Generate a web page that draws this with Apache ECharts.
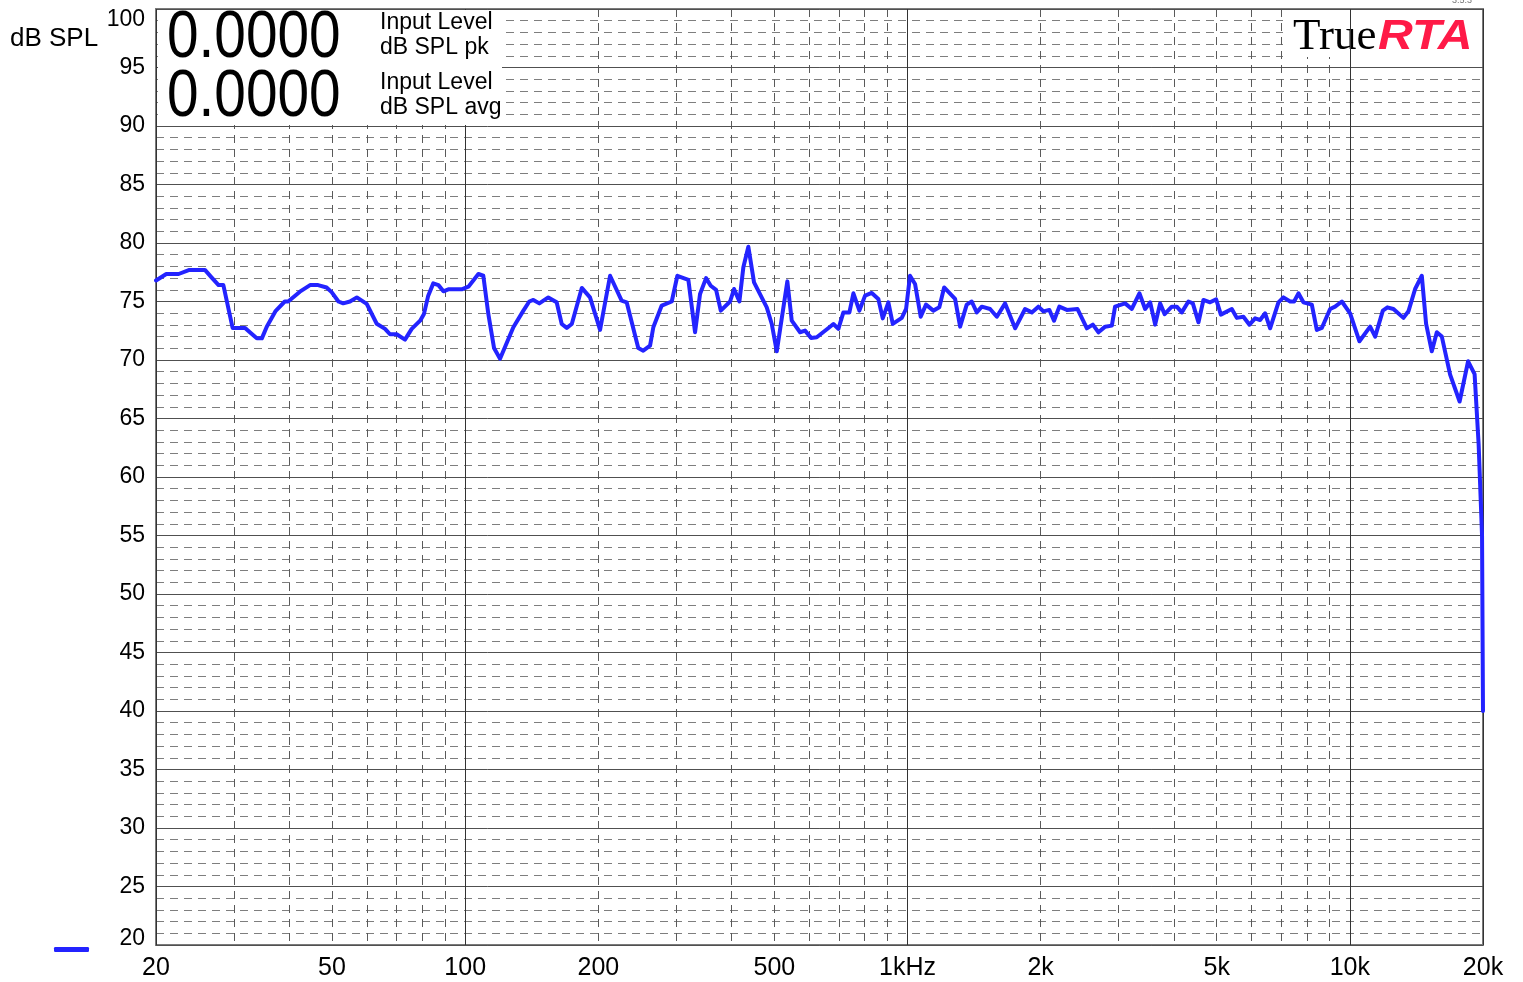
<!DOCTYPE html>
<html>
<head>
<meta charset="utf-8">
<style>
html,body{margin:0;padding:0;background:#fff;}
#chart{width:1523px;height:982px;}
</style>
<script src="https://cdn.jsdelivr.net/npm/echarts@6/dist/echarts.min.js"></script>
</head>
<body>
<div id="chart"></div>
<script>
// Frequencies (Hz) of the measured curve
const freqs = [20, 21.1, 22.5, 23.8, 25.8, 26.7, 27.7, 28.4, 29.8, 31.8,
  32.6, 33.8, 34.7, 35.6, 37.3, 39.1, 39.8, 42.3, 44.6, 46.5,
  48.6, 49.9, 51.7, 53.0, 54.9, 56.9, 59.9, 63.1, 65.9, 67.6,
  70.0, 73.1, 75.7, 79.1, 80.7, 82.5, 84.7, 87.0, 89.3, 91.6,
  98.2, 101.7, 107.1, 109.9, 112.8, 116.2, 119.9, 128.5, 135.4, 139.6,
  142.6, 147.1, 154.1, 161.0, 165.3, 169.7, 174.2, 183.5, 191.5, 201.8,
  212.6, 225.8, 231.8, 246.2, 252.7, 261.8, 266.3, 278.2, 293.1, 301.8,
  319.6, 330.9, 339.6, 350.4, 359.0, 369.2, 378.3, 397.1, 405.4, 416.8,
  425.5, 436.7, 449.8, 480.6, 493.3, 506.3, 535.0, 547.4, 571.6, 586.6,
  605.3, 623.5, 666.0, 679.9, 697.8, 716.2, 739.0, 754.5, 778.4, 801.8,
  830.2, 859.1, 879.0, 905.2, 926.1, 970.6, 992.6, 1013, 1040, 1071,
  1101, 1144, 1180, 1210, 1281, 1315, 1361, 1397, 1434, 1472,
  1537, 1592, 1662, 1751, 1844, 1910, 1976, 2028, 2093, 2144,
  2204, 2292, 2422, 2544, 2624, 2702, 2798, 2897, 2946, 3104,
  3214, 3344, 3445, 3537, 3630, 3724, 3813, 3958, 4062, 4169,
  4316, 4416, 4548, 4666, 4831, 4986, 5110, 5409, 5552, 5746,
  5930, 6108, 6268, 6434, 6603, 6896, 7078, 7328, 7482, 7652,
  7852, 8204, 8420, 8642, 9024, 9262, 9592, 10014, 10512, 11114,
  11408, 11874, 12162, 12548, 13218, 13566, 14046, 14544, 14874, 15322,
  15726, 16142, 16854, 17708, 18508, 19144, 19550, 19900, 20000];

// Measured level (dB SPL)
const levels = [76.8, 77.35, 77.35, 77.7, 77.7, 77.06, 76.4, 76.4, 72.74, 72.74,
  72.37, 71.85, 71.85, 72.85, 74.2, 75.0, 75.0, 75.84, 76.4, 76.4,
  76.2, 75.8, 75.0, 74.84, 75.0, 75.35, 74.8, 73.1, 72.66, 72.2,
  72.2, 71.74, 72.66, 73.36, 73.94, 75.5, 76.55, 76.4, 75.87, 76.04,
  76.04, 76.27, 77.35, 77.2, 73.94, 71.03, 70.1, 72.8, 74.22, 75.0,
  75.13, 74.84, 75.35, 74.93, 73.08, 72.74, 73.08, 76.16, 75.35, 72.57,
  77.2, 75.07, 74.93, 71.03, 70.8, 71.23, 72.8, 74.65, 75.0, 77.2,
  76.84, 72.37, 75.64, 77.0, 76.35, 75.99, 74.22, 75.0, 76.07, 75.0,
  77.92, 79.68, 76.64, 74.5, 73.08, 70.74, 76.72, 73.36, 72.37, 72.51,
  71.89, 71.94, 72.8, 73.08, 72.66, 74.07, 74.07, 75.7, 74.22, 75.5,
  75.73, 75.22, 73.56, 74.93, 73.08, 73.6, 74.36, 77.2, 76.5, 73.7,
  74.73, 74.22, 74.5, 76.2, 75.22, 72.85, 74.73, 75.0, 74.07, 74.56,
  74.36, 73.7, 74.84, 72.71, 74.36, 74.07, 74.56, 74.16, 74.28, 73.36,
  74.56, 74.28, 74.36, 72.71, 73.02, 72.37, 72.85, 72.94, 74.56, 74.84,
  74.36, 75.7, 74.36, 74.93, 73.02, 74.84, 73.92, 74.56, 74.56, 74.07,
  75.0, 74.84, 73.22, 75.13, 74.93, 75.18, 73.88, 74.36, 73.6, 73.7,
  73.02, 73.56, 73.42, 73.99, 72.71, 74.93, 75.35, 75.0, 75.0, 75.7,
  74.93, 74.73, 72.57, 72.74, 74.36, 74.56, 75.0, 73.99, 71.6, 72.85,
  72.0, 74.22, 74.5, 74.36, 73.6, 74.16, 76.07, 77.2, 73.08, 70.74,
  72.37, 72.0, 68.75, 66.45, 69.89, 68.8, 62.8, 55.0, 40];

// Axis tick values and labels
const xLabelValues = [20, 50, 100, 200, 500, 1000, 2000, 5000, 10000, 20000];
const xLabelTexts = ['20', '50', '100', '200', '500', '1kHz', '2k', '5k', '10k', '20k'];
const xMinorGrid = [30, 40, 50, 60, 70, 80, 90, 200, 300, 400, 500, 600, 700, 800, 900,
  2000, 3000, 4000, 5000, 6000, 7000, 8000, 9000];
const yMin = 20, yMax = 100, yMajor = 5, yMinor = 1;

const readoutValues = ['0.0000', '0.0000'];
const readoutCaptions = ['Input Level', 'dB SPL pk', 'Input Level', 'dB SPL avg'];

const FONT = '"Liberation Sans", Arial, sans-serif';
const chart = echarts.init(document.getElementById('chart'), null, {renderer: 'canvas'});

const seriesData = freqs.map((f, i) => [f, levels[i]]);

const option = {
  animation: false,
  backgroundColor: '#ffffff',
  grid: {left: 156, right: 40, top: 9, bottom: 37, show: true,
    borderColor: '#7a7a7a', borderWidth: 2, backgroundColor: '#ffffff'},
  legend: {
    left: 54, top: 947, padding: 0, icon: 'roundRect', itemWidth: 35, itemHeight: 5,
    formatter: () => '', data: ['Level'], selectedMode: false
  },
  xAxis: [
    {
      type: 'log', logBase: 10, min: 20, max: 20000, z: 5,
      axisLine: {show: false}, axisTick: {show: false},
      splitLine: {show: true, lineStyle: {color: '#333333', width: 1, type: 'solid'}},
      axisLabel: {
        customValues: xLabelValues,
        fontFamily: FONT, fontSize: 25, color: '#000', margin: 11,
        formatter: (v) => {
          const i = xLabelValues.findIndex(t => Math.abs(t - v) / t < 0.01);
          return i >= 0 ? xLabelTexts[i] : '';
        }
      }
    },
    {
      type: 'log', logBase: 10, min: 20, max: 20000, z: 0, position: 'top',
      axisLine: {show: false}, axisLabel: {show: false},
      axisTick: {show: false, customValues: xMinorGrid},
      splitLine: {show: true, lineStyle: {color: '#5a5a5a', width: 1, type: [8, 6]}}
    }
  ],
  yAxis: [
    {
      type: 'value', min: yMin, max: yMax, interval: yMajor, z: 1,
      axisLine: {show: false}, axisTick: {show: false},
      splitLine: {show: true, lineStyle: {color: '#505050', width: 1}},
      axisLabel: {
        fontFamily: FONT, fontSize: 23, color: '#000', margin: 11,
        formatter: (v) => v === yMax ? '{top|' + v + '}' : (v === yMin ? '{bot|' + v + '}' : String(v)),
        rich: {
          top: {fontFamily: FONT, fontSize: 23, color: '#000', padding: [22, 0, 0, 0]},
          bot: {fontFamily: FONT, fontSize: 23, color: '#000', padding: [0, 0, 12, 0]}
        }
      }
    },
    {
      type: 'value', min: yMin, max: yMax, interval: yMinor, z: 0,
      axisLine: {show: false}, axisTick: {show: false}, axisLabel: {show: false},
      splitLine: {show: true, lineStyle: {color: '#7e7e7e', width: 1, type: [8, 6]}}
    }
  ],
  series: [{
    name: 'Level', type: 'line', xAxisIndex: 0, yAxisIndex: 0, z: 6,
    data: seriesData, showSymbol: false, symbol: 'none',
    color: '#2323ff',
    lineStyle: {color: '#2323ff', width: 4, join: 'round', cap: 'round'},
    clip: true
  }],
  graphic: [
    {type: 'rect', z: 10, shape: {x: 158, y: 10, width: 344, height: 115}, style: {fill: '#ffffff'}},
    {type: 'text', z: 11, x: 167, y: 39, scaleX: 0.86,
      style: {text: readoutValues[0], font: '66px ' + FONT, fill: '#000', verticalAlign: 'middle', align: 'left'}},
    {type: 'text', z: 11, x: 167, y: 98, scaleX: 0.86,
      style: {text: readoutValues[1], font: '66px ' + FONT, fill: '#000', verticalAlign: 'middle', align: 'left'}},
    {type: 'text', z: 11, x: 380, y: 23, style: {text: readoutCaptions[0], font: '23px ' + FONT, fill: '#000', verticalAlign: 'middle'}},
    {type: 'text', z: 11, x: 380, y: 48, style: {text: readoutCaptions[1], font: '23px ' + FONT, fill: '#000', verticalAlign: 'middle'}},
    {type: 'text', z: 11, x: 380, y: 83, style: {text: readoutCaptions[2], font: '23px ' + FONT, fill: '#000', verticalAlign: 'middle'}},
    {type: 'text', z: 11, x: 380, y: 108, style: {text: readoutCaptions[3], font: '23px ' + FONT, fill: '#000', verticalAlign: 'middle'}},
    {type: 'rect', z: 3, shape: {x: 1283, y: 10, width: 199, height: 47}, style: {fill: '#ffffff'}},
    {type: 'text', z: 4, x: 1293, y: 37,
      style: {text: 'True', font: '45px "Liberation Serif", "Times New Roman", serif', fill: '#000', verticalAlign: 'middle', align: 'left'}},
    {type: 'text', z: 4, x: 1378, y: 37, scaleX: 1.12,
      style: {text: 'RTA', font: 'italic bold 43px ' + FONT, fill: '#ff1a47', verticalAlign: 'middle', align: 'left'}},
    {type: 'text', z: 4, x: 1462, y: 1, style: {text: '3.5.3', font: '9px ' + FONT, fill: '#777', verticalAlign: 'middle', align: 'center'}},
    {type: 'text', z: 4, x: 10, y: 39, style: {text: 'dB SPL', font: '26px ' + FONT, fill: '#000', verticalAlign: 'middle', align: 'left'}}
  ]
};
chart.setOption(option);
</script>
</body>
</html>
